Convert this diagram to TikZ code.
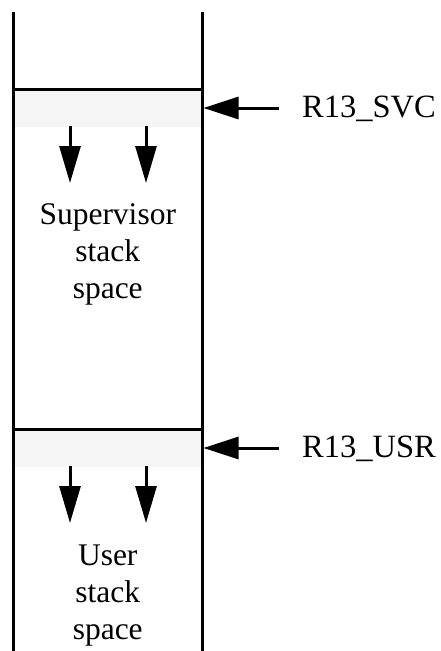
\documentclass[tikz,border=0pt]{standalone}
\usepackage{fontspec}
\setmainfont{Liberation Serif}
\usetikzlibrary{arrows.meta}
\definecolor{bandgray}{HTML}{F5F5F5}
\tikzset{
  wall/.style={line width=3pt,black},
  divider/.style={line width=3pt,black},
  band/.style={fill=bandgray,draw=none},
  ptr/.style={line width=3pt,-{Triangle[length=35pt,width=22pt]}},
  growarrow/.style={line width=3pt,-{Triangle[length=37pt,width=21pt]}},
  regname/.style={font=\fontsize{32.5}{37}\selectfont,inner sep=0pt,anchor=base west},
  area/.style={font=\fontsize{31.5}{37}\selectfont,inner sep=0pt,align=center,anchor=center}
}
\begin{document}
\begin{tikzpicture}[x=1pt,y=-1pt]
\useasboundingbox (0,0) rectangle (441,651);
% bands
\fill[band] (13.5,89.5) rectangle (202,127);
\fill[band] (13.5,429.5) rectangle (202,467);
% walls and dividers
\draw[wall] (13.5,12) -- (13.5,651);
\draw[wall] (202,12) -- (202,651);
\draw[divider] (13.5,89.5) -- (202,89.5);
\draw[divider] (13.5,429.5) -- (202,429.5);
% register labels
\node[regname] (svc) at (302,117) {R13\_SVC};
\node[regname] (usr) at (302,457) {R13\_USR};
\coordinate (svcfrom) at (279,108);
\coordinate (svcto) at (203.5,108);
\coordinate (usrfrom) at (279,448);
\coordinate (usrto) at (203.5,448);
\draw[ptr] (svcfrom) -- (svcto);
\draw[ptr] (usrfrom) -- (usrto);
% growth arrows
\coordinate (s1a) at (70,126); \coordinate (s1b) at (70,183);
\coordinate (s2a) at (146,126); \coordinate (s2b) at (146,183);
\coordinate (u1a) at (70,466); \coordinate (u1b) at (70,523);
\coordinate (u2a) at (146,466); \coordinate (u2b) at (146,523);
\draw[growarrow] (s1a) -- (s1b);
\draw[growarrow] (s2a) -- (s2b);
\draw[growarrow] (u1a) -- (u1b);
\draw[growarrow] (u2a) -- (u2b);
% area labels
\node[area] (supv) at (107.75,254) {Supervisor\\stack\\space};
\node[area] (user) at (107.75,596) {User\\stack\\space};
\end{tikzpicture}
\end{document}
